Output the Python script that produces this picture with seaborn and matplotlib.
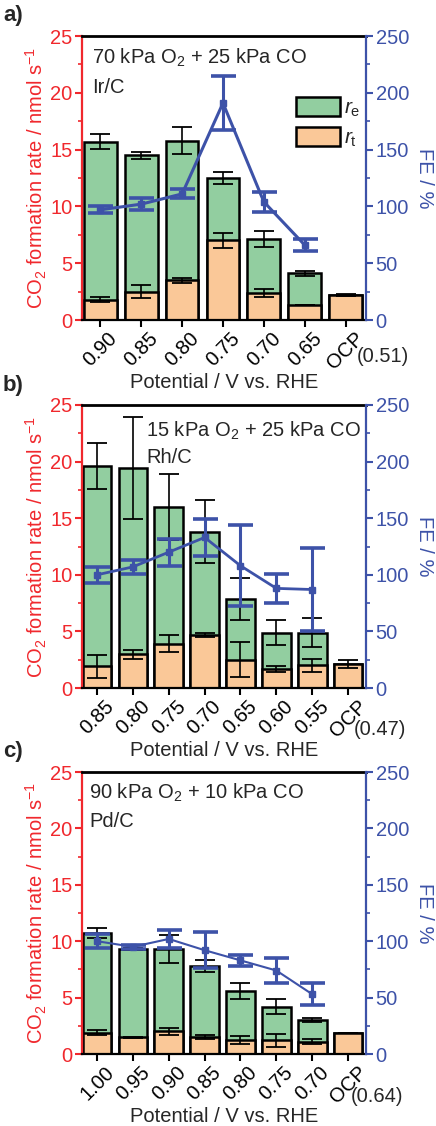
import numpy as np
import pandas as pd
import matplotlib
matplotlib.use('Agg')
import matplotlib.pyplot as plt
import seaborn as sns
from matplotlib.ticker import MultipleLocator
from matplotlib.patches import Patch

sns.set_style('ticks')
plt.rcParams['font.family'] = ['Liberation Sans', 'DejaVu Sans']
plt.rcParams['mathtext.fontset'] = 'custom'
plt.rcParams['mathtext.rm'] = 'Liberation Sans'
plt.rcParams['mathtext.it'] = 'Liberation Sans:italic'
plt.rcParams['mathtext.bf'] = 'Liberation Sans:bold'

GREEN = '#92cea0'
ORANGE = '#fac898'
BLUE = '#3d52a8'
RED = '#f0282d'

# ---------------- data ----------------
# panel a: Ir/C
a_cats = ['0.90', '0.85', '0.80', '0.75', '0.70', '0.65', 'OCP']
a_total = [15.7, 14.5, 15.8, 12.5, 7.1, 4.1, 2.2]
a_total_err = [0.65, 0.3, 1.15, 0.5, 0.7, 0.2, np.nan]
a_rt = [1.8, 2.5, 3.5, 7.0, 2.35, 1.3, 2.2]
a_rt_err = [0.2, 0.6, 0.2, 0.7, 0.35, 0.0, 0.05]
a_fe = [97, 102, 111, 191, 104, 66]
a_fe_err = [3, 5, 4, 24, 9, 5]

# panel b: Rh/C
b_cats = ['0.85', '0.80', '0.75', '0.70', '0.65', '0.60', '0.55', 'OCP']
b_total = [19.6, 19.4, 16.0, 13.8, 7.9, 4.9, 4.9, 2.1]
b_total_err = [2.0, 4.5, 2.9, 2.8, 1.85, 1.1, 1.25, np.nan]
b_rt = [1.9, 3.0, 3.9, 4.7, 2.5, 1.7, 2.0, 2.1]
b_rt_err = [1.05, 0.4, 0.75, 0.2, 1.55, 0.25, 0.6, 0.35]
b_fe = [100, 107, 120, 133, 108, 88, 87]
b_fe_err = [7, 6, 12, 16, 36, 13, 37]

# panel c: Pd/C
c_cats = ['1.00', '0.95', '0.90', '0.85', '0.80', '0.75', '0.70', 'OCP']
c_total = [10.7, 9.3, 9.3, 7.8, 5.6, 4.2, 3.0, 1.9]
c_total_err = [0.45, 0.1, 1.25, 0.5, 0.7, 0.65, 0.2, np.nan]
c_rt = [1.9, 1.5, 2.0, 1.5, 1.25, 1.2, 1.1, 1.9]
c_rt_err = [0.2, 0.05, 0.3, 0.2, 0.35, 0.6, 0.2, 0.0]
c_fe = [100, 95, 102, 92, 83, 74, 53]
c_fe_err = [6, 2, 8, 16, 5, 11, 10]

panels = [
    dict(tag='a)', cats=a_cats, total=a_total, total_err=a_total_err, rt=a_rt, rt_err=a_rt_err,
         fe=a_fe, fe_err=a_fe_err, gas='70 kPa O$_2$ + 25 kPa CO', cat='Ir/C', ocp='(0.51)',
         rect=[82, 36, 284, 284], txt_x=0.035, txt_y=(0.923, 0.817), legend=True, lw=2.2,
         xmin=-0.45, ocp_xy=(1.06, -0.13)),
    dict(tag='b)', cats=b_cats, total=b_total, total_err=b_total_err, rt=b_rt, rt_err=b_rt_err,
         fe=b_fe, fe_err=b_fe_err, gas='15 kPa O$_2$ + 25 kPa CO', cat='Rh/C', ocp='(0.47)',
         rect=[82, 405, 284, 283], txt_x=0.225, txt_y=(0.91, 0.816), legend=False, lw=2.0,
         xmin=-0.42, ocp_xy=(1.05, -0.148)),
    dict(tag='c)', cats=c_cats, total=c_total, total_err=c_total_err, rt=c_rt, rt_err=c_rt_err,
         fe=c_fe, fe_err=c_fe_err, gas='90 kPa O$_2$ + 10 kPa CO', cat='Pd/C', ocp='(0.64)',
         rect=[82, 772, 284, 282], txt_x=0.025, txt_y=(0.925, 0.823), legend=False, lw=1.5,
         xmin=-0.42, ocp_xy=(1.04, -0.152)),
]

FS = 14.5
W, H = 436, 1126
fig = plt.figure(figsize=(W / 100, H / 100), dpi=100)

for p in panels:
    x0, y0, w, h = p['rect']
    ax = fig.add_axes([x0 / W, 1 - (y0 + h) / H, w / W, h / H])
    n = len(p['cats'])
    df = pd.DataFrame({'Potential': p['cats'], 'total': p['total'], 'rt': p['rt']})
    sns.barplot(data=df, x='Potential', y='total', order=p['cats'], color=GREEN, saturation=1,
                edgecolor='black', linewidth=1.8, width=0.8, errorbar=None, ax=ax, zorder=2)
    sns.barplot(data=df, x='Potential', y='rt', order=p['cats'], color=ORANGE, saturation=1,
                edgecolor='black', linewidth=1.8, width=0.8, errorbar=None, ax=ax, zorder=2)
    xs = np.arange(n)
    ax.errorbar(xs, p['total'], yerr=p['total_err'], fmt='none', ecolor='black',
                elinewidth=1.2, capsize=7.5, capthick=1.3, zorder=5)
    ax.errorbar(xs, p['rt'], yerr=p['rt_err'], fmt='none', ecolor='black',
                elinewidth=1.2, capsize=7.5, capthick=1.3, zorder=5)

    ax.set_ylim(0, 25)
    ax.set_xlim(p['xmin'], n - 0.5)
    ax.yaxis.set_major_locator(MultipleLocator(5))
    ax.yaxis.set_minor_locator(MultipleLocator(2.5))
    ax.set_ylabel('CO$_2$ formation rate / nmol s$^{-1}$', color=RED, fontsize=FS, labelpad=1)
    ax.set_xlabel('Potential / V vs. RHE', fontsize=FS, labelpad=0)
    ax.tick_params(axis='y', which='major', colors=RED, labelsize=FS, length=5, width=1.5, pad=2)
    ax.tick_params(axis='y', which='minor', colors=RED, length=3, width=1.2)
    ax.tick_params(axis='x', colors='black', labelsize=FS, length=5, width=1.5, pad=1)
    for lab in ax.get_xticklabels():
        lab.set_rotation(45)
    ax.spines['left'].set_color(RED)
    ax.spines['left'].set_linewidth(1.6)
    ax.spines['right'].set_visible(False)
    ax.spines['top'].set_color('black')
    ax.spines['top'].set_linewidth(2)
    ax.spines['bottom'].set_color('black')
    ax.spines['bottom'].set_linewidth(1.6)

    ax2 = ax.twinx()
    ax2.errorbar(xs[:len(p['fe'])], p['fe'], yerr=p['fe_err'], color=BLUE, marker='s', ms=5,
                 lw=p['lw'], elinewidth=2.2, capsize=9, capthick=2.6, zorder=6)
    ax2.set_ylim(0, 250)
    ax2.yaxis.set_major_locator(MultipleLocator(50))
    ax2.yaxis.set_minor_locator(MultipleLocator(25))
    ax2.tick_params(axis='y', which='major', colors=BLUE, labelsize=FS, length=5, width=1.5, pad=2)
    ax2.tick_params(axis='y', which='minor', colors=BLUE, length=3, width=1.2)
    ax2.set_ylabel('FE / %', color=BLUE, fontsize=FS, rotation=270, labelpad=18)
    ax2.spines['right'].set_color(BLUE)
    ax2.spines['right'].set_linewidth(1.6)
    for s in ['left', 'top', 'bottom']:
        ax2.spines[s].set_visible(False)

    ax.text(p['txt_x'], p['txt_y'][0], p['gas'], transform=ax.transAxes, fontsize=FS,
            va='center', ha='left')
    ax.text(p['txt_x'], p['txt_y'][1], p['cat'], transform=ax.transAxes, fontsize=FS,
            va='center', ha='left')
    ax.text(p['ocp_xy'][0], p['ocp_xy'][1], p['ocp'], transform=ax.transAxes, fontsize=FS,
            ha='center', va='center')

    if p['legend']:
        handles = [Patch(facecolor=GREEN, edgecolor='black', linewidth=1.8),
                   Patch(facecolor=ORANGE, edgecolor='black', linewidth=1.8)]
        ax2.legend(handles, ['$r_\\mathrm{e}$', '$r_\\mathrm{t}$'], loc='upper left',
                   bbox_to_anchor=(0.755, 0.785), frameon=False, fontsize=15,
                   handlelength=2.1, handleheight=1.0, labelspacing=0.4, handletextpad=0.2,
                   borderpad=0, borderaxespad=0)

    fig.text(3 / W, 1 - (y0 - 20) / H, p['tag'], fontsize=16, fontweight='bold', va='center', ha='left')

fig.savefig('out.png', dpi=100)
